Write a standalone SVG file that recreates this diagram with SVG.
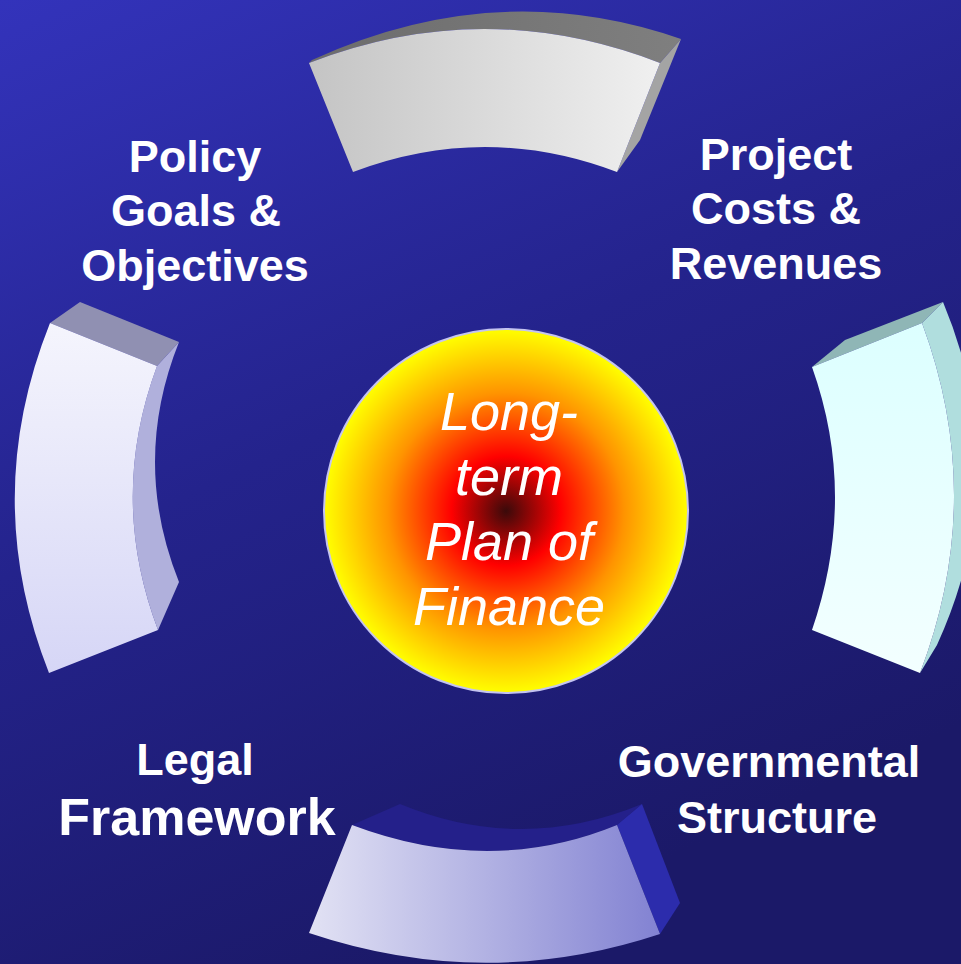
<svg xmlns="http://www.w3.org/2000/svg" width="961" height="964" viewBox="0 0 961 964">
  <defs>
    <linearGradient id="bg" x1="0" y1="0" x2="0.45" y2="1">
      <stop offset="0" stop-color="#3333bb"/>
      <stop offset="0.5" stop-color="#24238c"/>
      <stop offset="1" stop-color="#1b1968"/>
    </linearGradient>
    <radialGradient id="sun" cx="0.5" cy="0.5" r="0.5">
      <stop offset="0" stop-color="#3a0a0a"/>
      <stop offset="0.3" stop-color="#ff0000"/>
      <stop offset="0.65" stop-color="#ff9400"/>
      <stop offset="1" stop-color="#ffff00"/>
    </radialGradient>
    <!-- top segment -->
    <linearGradient id="topFront" x1="0" y1="0" x2="1" y2="0">
      <stop offset="0" stop-color="#c4c4c4"/>
      <stop offset="1" stop-color="#f0f0f0"/>
    </linearGradient>
    <linearGradient id="topLid" x1="0" y1="0" x2="1" y2="0">
      <stop offset="0" stop-color="#6c6c6c"/>
      <stop offset="1" stop-color="#7f7f7f"/>
    </linearGradient>
    <!-- left segment -->
    <linearGradient id="leftFront" x1="0" y1="0" x2="0" y2="1">
      <stop offset="0" stop-color="#f5f5fd"/>
      <stop offset="1" stop-color="#d6d6f6"/>
    </linearGradient>
    <!-- right segment -->
    <linearGradient id="rightFront" x1="0" y1="0" x2="0" y2="1">
      <stop offset="0" stop-color="#dcffff"/>
      <stop offset="1" stop-color="#f3ffff"/>
    </linearGradient>
    <!-- bottom segment -->
    <linearGradient id="bottomFront" x1="0" y1="0" x2="1" y2="0">
      <stop offset="0" stop-color="#e2e2f4"/>
      <stop offset="1" stop-color="#8282d2"/>
    </linearGradient>
  </defs>
  <style>
    .label { font-family: "Liberation Sans", Arial, sans-serif; font-weight: bold; font-size: 45px; fill: #ffffff; text-anchor: middle; }
    .core { font-family: "Liberation Sans", Arial, sans-serif; font-style: italic; font-size: 54px; fill: #ffffff; text-anchor: middle; }
  </style>

  <rect x="0" y="0" width="961" height="964" fill="url(#bg)"/>

  <!-- ring segments -->
  <g id="segment-top">
    <path d="M309,63 Q484,-5 660,63 L681,39 Q497,-25 312,60 Z" fill="url(#topLid)"/>
    <path d="M660,63 L681,39 L640,140 L617,172 Z" fill="#a4a4a4"/>
    <path d="M309,63 Q484,-5 660,63 L617,172 Q485,122 353,172 Z" fill="url(#topFront)"/>
  </g>

  <g id="segment-left">
    <path d="M50,323 L80,302 L179,342 L157,366 Z" fill="#9090b2"/>
    <path d="M157,366 Q108,498 158,630 L179,582 Q131,462 179,342 Z" fill="#b0b0dc"/>
    <path d="M50,323 L157,366 Q108,498 158,630 L49,673 Q-20,498 50,323 Z" fill="url(#leftFront)"/>
  </g>

  <g id="segment-right">
    <path d="M812,367 L845,340 L943,302 L922,323 Z" fill="#8fb6b6"/>
    <path d="M922,323 L943,302 Q1015,474 937,645 L920,673 Q987,498 922,323 Z" fill="#b0dede"/>
    <path d="M812,367 L922,323 Q987,498 920,673 L812,630 Q858,496 812,367 Z" fill="url(#rightFront)"/>
  </g>

  <g id="segment-bottom">
    <path d="M352,825 L400,804 Q521,854 642,804 L617,825 Q490,877 352,825 Z" fill="#24208a"/>
    <path d="M617,825 L642,804 L680,903 L660,934 Z" fill="#2c2cac"/>
    <path d="M352,825 Q490,877 617,825 L660,934 Q485,992 309,933 Z" fill="url(#bottomFront)"/>
  </g>

  <!-- centre -->
  <g id="long-term-plan">
    <circle cx="506" cy="511" r="182" fill="url(#sun)" stroke="#c4c4f0" stroke-width="2"/>
    <text class="core" x="509" y="430">Long-</text>
    <text class="core" x="509" y="495">term</text>
    <text class="core" x="509" y="560">Plan of</text>
    <text class="core" x="509" y="625">Finance</text>
  </g>

  <!-- labels -->
  <g id="policy-goals">
    <text class="label" x="195" y="172">Policy</text>
    <text class="label" x="196" y="226">Goals &amp;</text>
    <text class="label" x="195" y="281">Objectives</text>
  </g>
  <g id="project-costs">
    <text class="label" x="776" y="170">Project</text>
    <text class="label" x="776" y="224">Costs &amp;</text>
    <text class="label" x="776" y="279">Revenues</text>
  </g>
  <g id="legal-framework">
    <text class="label" x="195" y="775">Legal</text>
    <text class="label" x="197" y="835" style="font-size:52px">Framework</text>
  </g>
  <g id="governmental-structure">
    <text class="label" x="769" y="777">Governmental</text>
    <text class="label" x="777" y="833">Structure</text>
  </g>
</svg>
